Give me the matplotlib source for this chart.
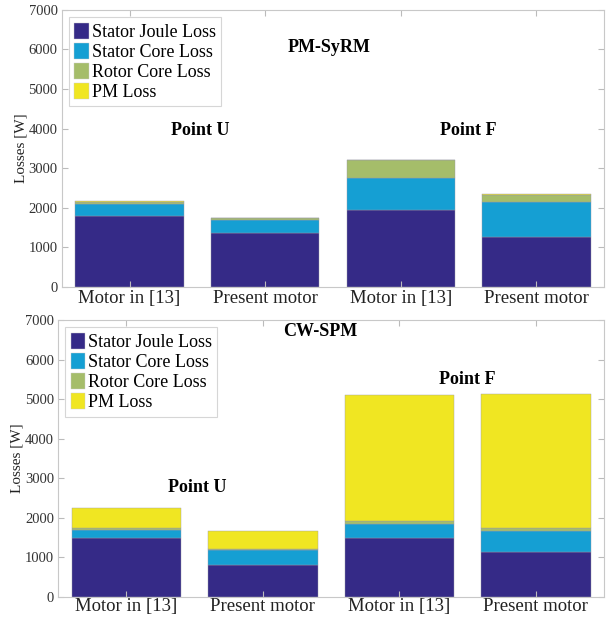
import numpy as np
import matplotlib
matplotlib.use("Agg")
import matplotlib.pyplot as plt

categories = ["Motor in [13]", "Present motor", "Motor in [13]", "Present motor"]
loss_names = ["Stator Joule Loss", "Stator Core Loss", "Rotor Core Loss", "PM Loss"]
colors = ["#352a87", "#159fd3", "#a5bd6a", "#f0e622"]

# PM-SyRM losses [W]
syrm_joule = [1800, 1350, 1950, 1250]
syrm_stator_core = [300, 330, 800, 900]
syrm_rotor_core = [50, 50, 450, 170]
syrm_pm = [10, 20, 5, 20]

# CW-SPM losses [W]
spm_joule = [1500, 820, 1500, 1130]
spm_stator_core = [200, 380, 350, 530]
spm_rotor_core = [40, 10, 60, 80]
spm_pm = [500, 450, 3190, 3400]

plt.rcParams['font.family'] = ['Liberation Serif', 'DejaVu Serif']

fig = plt.figure(figsize=(6.06, 6.18), dpi=100)
ax_top = fig.add_axes([0.102, 0.536, 0.895, 0.448])
ax_bot = fig.add_axes([0.096, 0.034, 0.901, 0.448])

def draw_panel(ax, series, title, title_xy, point_pos, xpad):
    x = np.arange(1, len(categories) + 1)
    bottom = np.zeros(len(categories))
    for vals, name, col in zip(series, loss_names, colors):
        ax.bar(x, vals, 0.8, bottom=bottom, color=col, label=name,
               edgecolor="#9a9aa8", linewidth=0.3)
        bottom += np.array(vals)
    ax.set_xlim(0.5, 4.5)
    ax.set_ylim(0, 7000)
    ax.set_yticks(range(0, 7001, 1000))
    ax.set_xticks(x)
    ax.set_xticklabels(categories, fontsize=13.5, color="#222222")
    ax.tick_params(axis="y", labelsize=10.5, colors="#333333", pad=3)
    ax.tick_params(axis="x", pad=xpad)
    ax.tick_params(direction="in", top=True, right=True, color="#bbbbbb",
                   length=4)
    for s in ax.spines.values():
        s.set_color("#c8c8c8")
        s.set_linewidth(0.8)
    ax.set_ylabel("Losses [W]", fontsize=11, labelpad=1, color="#222222")
    ax.text(title_xy[0], title_xy[1], title, fontsize=13, fontweight="bold",
            ha="center", va="center")
    ax.text(point_pos[0][0], point_pos[0][1], "Point U", fontsize=13,
            fontweight="bold", ha="center", va="center")
    ax.text(point_pos[1][0], point_pos[1][1], "Point F", fontsize=13,
            fontweight="bold", ha="center", va="center")
    leg = ax.legend(loc="upper left", fontsize=13, frameon=True, fancybox=False,
                    borderpad=0.3, labelspacing=0.1, handlelength=0.8,
                    handleheight=1.0, handletextpad=0.15, borderaxespad=0.4)
    leg.get_frame().set_edgecolor("#cccccc")
    leg.get_frame().set_linewidth(0.8)
    for h in leg.legend_handles:
        h.set_edgecolor("#cccccc")

draw_panel(ax_top, [syrm_joule, syrm_stator_core, syrm_rotor_core, syrm_pm],
           "PM-SyRM", (2.47, 6050), [(1.52, 3950), (3.5, 3950)], 2)
draw_panel(ax_bot, [spm_joule, spm_stator_core, spm_rotor_core, spm_pm],
           "CW-SPM", (2.42, 6700), [(1.52, 2780), (3.5, 5500)], 0.5)

fig.savefig("out.png", dpi=100)
